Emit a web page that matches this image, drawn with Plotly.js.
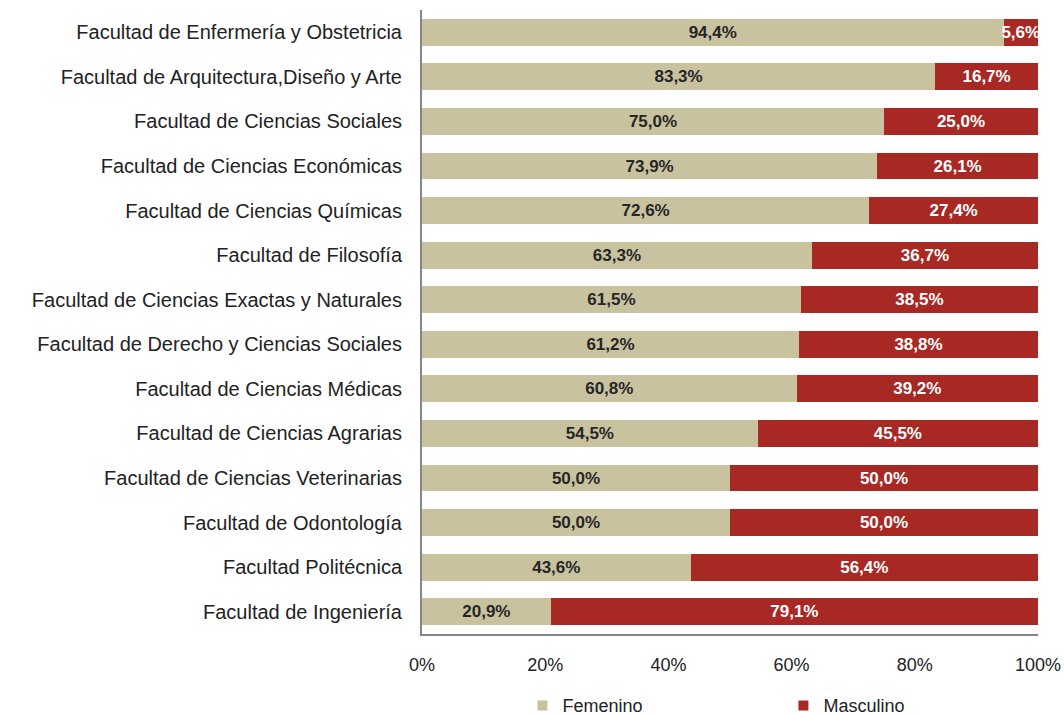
<!DOCTYPE html>
<html>
<head>
<meta charset="utf-8">
<script src="https://cdn.plot.ly/plotly-3.0.1.min.js"></script>
<style>html,body{margin:0;padding:0;background:#fff;}#chart{width:1064px;height:715px;}</style>
</head>
<body>
<div id="chart"></div>
<script>
const categories = [
  "Facultad de Enfermería y Obstetricia",
  "Facultad de Arquitectura,Diseño y Arte",
  "Facultad de Ciencias Sociales",
  "Facultad de Ciencias Económicas",
  "Facultad de Ciencias Químicas",
  "Facultad de Filosofía",
  "Facultad de Ciencias Exactas y Naturales",
  "Facultad de Derecho y Ciencias Sociales",
  "Facultad de Ciencias Médicas",
  "Facultad de Ciencias Agrarias",
  "Facultad de Ciencias Veterinarias",
  "Facultad de Odontología",
  "Facultad Politécnica",
  "Facultad de Ingeniería"
];
const femenino = [94.4, 83.3, 75.0, 73.9, 72.6, 63.3, 61.5, 61.2, 60.8, 54.5, 50.0, 50.0, 43.6, 20.9];
const masculino = [5.6, 16.7, 25.0, 26.1, 27.4, 36.7, 38.5, 38.8, 39.2, 45.5, 50.0, 50.0, 56.4, 79.1];
const tickVals = [0, 20, 40, 60, 80, 100];
const tickText = ["0%", "20%", "40%", "60%", "80%", "100%"];
const seriesNames = ["Femenino", "Masculino"];
const seriesColors = ["#C9C29F", "#A82823"];

const fmt = v => v.toFixed(1).replace('.', ',') + '%';
const FONT = 'Liberation Sans, Arial, Helvetica, sans-serif';

const traces = [
  {
    type: 'bar', orientation: 'h', name: seriesNames[0], showlegend: false,
    y: categories, x: femenino,
    marker: {color: seriesColors[0]},
    text: femenino.map(fmt), textposition: 'inside', insidetextanchor: 'middle',
    constraintext: 'none',
    textfont: {family: FONT, size: 17, color: '#262626', weight: 'bold'},
    hoverinfo: 'skip'
  },
  {
    type: 'bar', orientation: 'h', name: seriesNames[1], showlegend: false,
    y: categories, x: masculino,
    marker: {color: seriesColors[1]},
    text: masculino.map(fmt), textposition: 'inside', insidetextanchor: 'middle',
    constraintext: 'none',
    textfont: {family: FONT, size: 17, color: '#ffffff', weight: 'bold'},
    hoverinfo: 'skip'
  },
  {
    type: 'scatter', mode: 'markers', name: seriesNames[0], x: [null], y: [categories[0]],
    marker: {symbol: 'square', size: 10, color: seriesColors[0]}, showlegend: true, hoverinfo: 'skip'
  },
  {
    type: 'scatter', mode: 'markers', name: seriesNames[1], x: [null], y: [categories[0]],
    marker: {symbol: 'square', size: 10, color: seriesColors[1]}, showlegend: true, hoverinfo: 'skip'
  }
];

const layout = {
  width: 1064, height: 715,
  margin: {l: 422, r: 26, t: 10, b: 81, autoexpand: false},
  barmode: 'stack', bargap: 0.4,
  paper_bgcolor: '#fff', plot_bgcolor: '#fff',
  font: {family: FONT, color: '#222'},
  xaxis: {
    range: [0, 100], tickvals: tickVals, ticktext: tickText,
    showgrid: false, zeroline: false, showline: true, linecolor: '#858585', linewidth: 2,
    ticks: '', tickfont: {size: 18, color: '#222'}, ticklabelstandoff: 13, fixedrange: true
  },
  yaxis: {
    type: 'category', categoryarray: categories, categoryorder: 'array',
    autorange: false, range: [categories.length - 0.5, -0.5],
    showgrid: false, zeroline: false,
    showline: true, linecolor: '#858585', linewidth: 2,
    ticks: '', tickfont: {size: 20, color: '#222'}, ticklabelstandoff: 14, fixedrange: true
  },
  legend: {
    orientation: 'h', xref: 'container', yref: 'container',
    x: 0.491, xanchor: 'left', y: 0.013, yanchor: 'middle',
    font: {size: 18, color: '#222'}, entrywidth: 216, entrywidthmode: 'pixels',
    itemwidth: 30, traceorder: 'normal'
  },
  showlegend: true
};

Plotly.newPlot('chart', traces, layout, {displayModeBar: false, staticPlot: true});
</script>
</body>
</html>
